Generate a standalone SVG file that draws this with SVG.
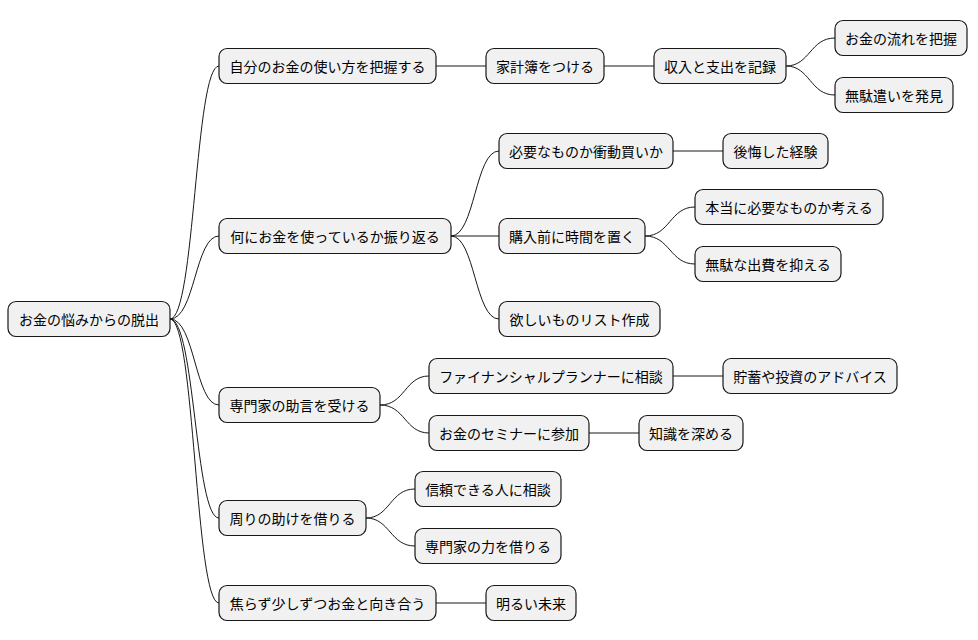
<svg xmlns="http://www.w3.org/2000/svg" width="978" height="640" viewBox="0 0 978 640">
<style>
.n rect{fill:#f1f1f1;stroke:#181818;stroke-width:1.2}
.n text{font-family:"Noto Sans CJK JP","Noto Sans CJK SC",sans-serif;font-size:14px;fill:#000;text-anchor:middle;dominant-baseline:central}
#c path{fill:none;stroke:#181818;stroke-width:1}
</style>
<rect width="978" height="640" fill="#fff"/>
<g id="c">
<path d="M170,319 C195,319 195,66 219,66"/>
<path d="M170,319 C195,319 195,236 219,236"/>
<path d="M170,319 C195,319 195,405 219,405"/>
<path d="M170,319 C195,319 195,518 219,518"/>
<path d="M170,319 C195,319 195,603 219,603"/>
<path d="M436,66 L486,66"/>
<path d="M604,66 L654,66"/>
<path d="M786,66 C810,66 810,38 835,38"/>
<path d="M786,66 C810,66 810,95 835,95"/>
<path d="M451,236 C475,236 475,151 499,151"/>
<path d="M451,236 L499,236"/>
<path d="M451,236 C475,236 475,319 499,319"/>
<path d="M673,151 L723,151"/>
<path d="M645,236 C670,236 670,207 695,207"/>
<path d="M645,236 C670,236 670,264 695,264"/>
<path d="M380,405 C405,405 405,376 429,376"/>
<path d="M380,405 C405,405 405,433 429,433"/>
<path d="M673,376 L723,376"/>
<path d="M589,433 L639,433"/>
<path d="M366,518 C390,518 390,489 415,489"/>
<path d="M366,518 C390,518 390,546 415,546"/>
<path d="M436,603 L486,603"/>
</g>
<g id="root" class="n"><rect x="8" y="301.5" width="162" height="35" rx="8"/><text x="89" y="319">お金の悩みからの脱出</text></g>
<g id="n1" class="n"><rect x="219" y="48.5" width="217" height="35" rx="8"/><text x="327.5" y="66">自分のお金の使い方を把握する</text></g>
<g id="n2" class="n"><rect x="219" y="218.5" width="232" height="35" rx="8"/><text x="335" y="236">何にお金を使っているか振り返る</text></g>
<g id="n3" class="n"><rect x="219" y="387.5" width="161" height="35" rx="8"/><text x="299.5" y="405">専門家の助言を受ける</text></g>
<g id="n4" class="n"><rect x="219" y="500.5" width="147" height="35" rx="8"/><text x="292.5" y="518">周りの助けを借りる</text></g>
<g id="n5" class="n"><rect x="219" y="585.5" width="217" height="35" rx="8"/><text x="327.5" y="603">焦らず少しずつお金と向き合う</text></g>
<g id="n1a" class="n"><rect x="486" y="48.5" width="118" height="35" rx="8"/><text x="545" y="66">家計簿をつける</text></g>
<g id="n1a1" class="n"><rect x="654" y="48.5" width="132" height="35" rx="8"/><text x="720" y="66">収入と支出を記録</text></g>
<g id="n1a1a" class="n"><rect x="835" y="20.5" width="132" height="35" rx="8"/><text x="901" y="38">お金の流れを把握</text></g>
<g id="n1a1b" class="n"><rect x="835" y="77.5" width="118" height="35" rx="8"/><text x="894" y="95">無駄遣いを発見</text></g>
<g id="n2a" class="n"><rect x="499" y="133.5" width="174" height="35" rx="8"/><text x="586" y="151">必要なものか衝動買いか</text></g>
<g id="n2a1" class="n"><rect x="723" y="133.5" width="105" height="35" rx="8"/><text x="775.5" y="151">後悔した経験</text></g>
<g id="n2b" class="n"><rect x="499" y="218.5" width="146" height="35" rx="8"/><text x="572" y="236">購入前に時間を置く</text></g>
<g id="n2b1" class="n"><rect x="695" y="189.5" width="188" height="35" rx="8"/><text x="789" y="207">本当に必要なものか考える</text></g>
<g id="n2b2" class="n"><rect x="695" y="246.5" width="146" height="35" rx="8"/><text x="768" y="264">無駄な出費を抑える</text></g>
<g id="n2c" class="n"><rect x="499" y="301.5" width="161" height="35" rx="8"/><text x="579.5" y="319">欲しいものリスト作成</text></g>
<g id="n3a" class="n"><rect x="429" y="358.5" width="244" height="35" rx="8"/><text x="551" y="376">ファイナンシャルプランナーに相談</text></g>
<g id="n3a1" class="n"><rect x="723" y="358.5" width="174" height="35" rx="8"/><text x="810" y="376">貯蓄や投資のアドバイス</text></g>
<g id="n3b" class="n"><rect x="429" y="415.5" width="160" height="35" rx="8"/><text x="509" y="433">お金のセミナーに参加</text></g>
<g id="n3b1" class="n"><rect x="639" y="415.5" width="104" height="35" rx="8"/><text x="691" y="433">知識を深める</text></g>
<g id="n4a" class="n"><rect x="415" y="471.5" width="146" height="35" rx="8"/><text x="488" y="489">信頼できる人に相談</text></g>
<g id="n4b" class="n"><rect x="415" y="528.5" width="146" height="35" rx="8"/><text x="488" y="546">専門家の力を借りる</text></g>
<g id="n5a" class="n"><rect x="486" y="585.5" width="90" height="35" rx="8"/><text x="531" y="603">明るい未来</text></g>
</svg>
